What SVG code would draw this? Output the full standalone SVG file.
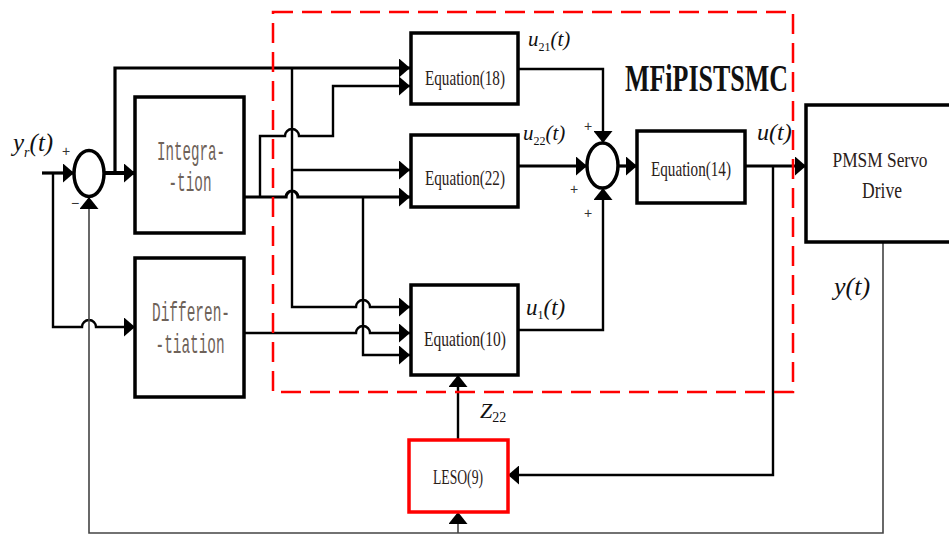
<svg xmlns="http://www.w3.org/2000/svg" width="949" height="536" viewBox="0 0 949 536">
<style>
.box{fill:#fff;stroke:#000;stroke-width:3.5}
.w3{fill:none;stroke:#000;stroke-width:3.2}
.w2{fill:none;stroke:#000;stroke-width:2.4}
.fb{fill:none;stroke:#444;stroke-width:1.6}
.sum{fill:#fff;stroke:#000;stroke-width:3.5}
.eq{font-family:"Liberation Serif",serif;font-size:22px;fill:#2a2018;text-anchor:middle}
.mono{font-family:"Liberation Mono",monospace;font-size:28px;fill:#6e6259;text-anchor:middle}
.var{font-family:"Liberation Serif",serif;font-style:italic;fill:#111}
.sign{font-family:"Liberation Sans",sans-serif;font-size:14px;fill:#333;text-anchor:middle}
</style>
<defs>
<marker id="ah" viewBox="0 0 11 19" refX="11" refY="9.5" markerWidth="11" markerHeight="19" markerUnits="userSpaceOnUse" orient="auto"><path d="M0,0 L11,9.5 L0,19 Z" fill="#000"/></marker>
<marker id="av" viewBox="0 0 12 19" refX="12" refY="9.5" markerWidth="12" markerHeight="19" markerUnits="userSpaceOnUse" orient="auto"><path d="M0,0 L12,9.5 L0,19 Z" fill="#000"/></marker>
</defs>

<g id="connectors">
<path class="w3" d="M42,173 H74" marker-end="url(#ah)"/>
<path class="w3" d="M104,173 H135" marker-end="url(#ah)" style="stroke-width:4"/>
<path class="w3" d="M115,173 V68 H410" marker-end="url(#ah)"/>
<path class="w3" d="M244,197 H286 A6,6 0 0 1 298,197 H410" marker-end="url(#ah)"/>
<path class="w2" d="M260,197 V136 H285 A7,7 0 0 1 299,136 H333 V86 H410" marker-end="url(#ah)"/>
<path class="w2" d="M292,68 V307 H356 A7,7 0 0 1 370,307 H410" marker-end="url(#ah)"/>
<path class="w2" d="M292,170 H410" marker-end="url(#ah)"/>
<path class="w2" d="M363,197 V355 H410" marker-end="url(#ah)"/>
<path class="w2" d="M244,333 H356 A7,7 0 0 1 370,333 H410" marker-end="url(#ah)"/>
<path class="w2" d="M53,173 V327 H82 A7,7 0 0 1 96,327 H135" marker-end="url(#ah)"/>
<path class="w2" d="M518,69 H603 V143" marker-end="url(#av)"/>
<path class="w3" d="M518,166 H587" marker-end="url(#ah)"/>
<path class="w2" d="M518,330 H603 V188" marker-end="url(#av)"/>
<path class="w3" d="M618,166 H637" marker-end="url(#ah)"/>
<path class="w3" d="M745,166 H806" marker-end="url(#ah)"/>
<path class="w2" d="M773,166 V475 H508" marker-end="url(#ah)"/>
<path class="w2" d="M458,440 V375" marker-end="url(#av)"/>
<path class="fb" d="M883,242 V533 H89 V197" marker-end="url(#av)"/>
<path class="fb" d="M458,533 V512" marker-end="url(#av)"/>
</g>

<g id="sum1"><ellipse class="sum" cx="89" cy="173.5" rx="15" ry="23"/>
<text class="sign" x="66" y="156">+</text><text class="sign" x="75" y="208">−</text></g>
<g id="sum2"><ellipse class="sum" cx="602.5" cy="165.5" rx="15.5" ry="22.5"/>
<text class="sign" x="588" y="131">+</text><text class="sign" x="574" y="194">+</text><text class="sign" x="588" y="218">+</text></g>

<g id="integration"><rect class="box" x="135" y="97" width="109" height="136"/>
<text class="mono" x="191" y="160" textLength="68" lengthAdjust="spacingAndGlyphs">Integra-</text>
<text class="mono" x="190" y="191" textLength="43" lengthAdjust="spacingAndGlyphs">-tion</text></g>

<g id="differentiation"><rect class="box" x="135" y="258" width="109" height="139"/>
<text class="mono" x="191" y="321" textLength="78" lengthAdjust="spacingAndGlyphs">Differen-</text>
<text class="mono" x="190" y="353" textLength="69" lengthAdjust="spacingAndGlyphs">-tiation</text></g>

<g id="eq18"><rect class="box" x="411" y="33" width="107" height="71"/>
<text class="eq" x="465" y="85" textLength="80" lengthAdjust="spacingAndGlyphs">Equation(18)</text></g>
<g id="eq22"><rect class="box" x="411" y="135" width="107" height="72"/>
<text class="eq" x="465" y="185" textLength="80" lengthAdjust="spacingAndGlyphs">Equation(22)</text></g>
<g id="eq10"><rect class="box" x="411" y="285" width="107" height="90"/>
<text class="eq" x="465" y="346" textLength="82" lengthAdjust="spacingAndGlyphs">Equation(10)</text></g>
<g id="eq14"><rect class="box" x="637" y="131" width="108" height="72"/>
<text class="eq" x="691" y="176" textLength="80" lengthAdjust="spacingAndGlyphs">Equation(14)</text></g>

<g id="pmsm"><rect x="806" y="105" width="143" height="137" fill="#fff"/>
<path d="M949,105 H806 V242 H949" fill="none" stroke="#000" stroke-width="3.5"/>
<text class="eq" x="880" y="167" textLength="95" lengthAdjust="spacingAndGlyphs" style="font-size:21px">PMSM Servo</text>
<text class="eq" x="882" y="198" textLength="40" lengthAdjust="spacingAndGlyphs" style="font-size:23px">Drive</text></g>

<g id="leso"><rect x="409" y="440" width="99" height="72" fill="#fff" stroke="#f00" stroke-width="3.5"/>
<text class="eq" x="458" y="484" textLength="50" lengthAdjust="spacingAndGlyphs" style="font-size:20px">LESO(9)</text></g>

<g id="controller-boundary"><rect x="273" y="12" width="520" height="380" fill="none" stroke="#f00" stroke-width="2.5" stroke-dasharray="20 9"/>
<text x="625" y="91" font-family="Liberation Serif,serif" font-weight="bold" font-size="37" fill="#111" textLength="163" lengthAdjust="spacingAndGlyphs">MFiPISTSMC</text></g>

<g id="labels">
<text class="var" x="13" y="151" font-size="25">y<tspan font-size="14" dy="6">r</tspan><tspan dy="-6">(t)</tspan></text>
<text class="var" x="528" y="46" font-size="21">u<tspan font-size="12" font-style="normal" dy="5">21</tspan><tspan dy="-5">(t)</tspan></text>
<text class="var" x="523" y="140" font-size="21">u<tspan font-size="12" font-style="normal" dy="5">22</tspan><tspan dy="-5">(t)</tspan></text>
<text class="var" x="526" y="315" font-size="23">u<tspan font-size="12" font-style="normal" dy="4">1</tspan><tspan dy="-4">(t)</tspan></text>
<text class="var" x="757" y="140" font-size="24">u(t)</text>
<text class="var" x="834" y="295" font-size="26">y(t)</text>
<text class="var" x="480" y="418" font-size="22">Z<tspan font-size="14" font-style="normal" dy="4">22</tspan></text>
</g>
</svg>
